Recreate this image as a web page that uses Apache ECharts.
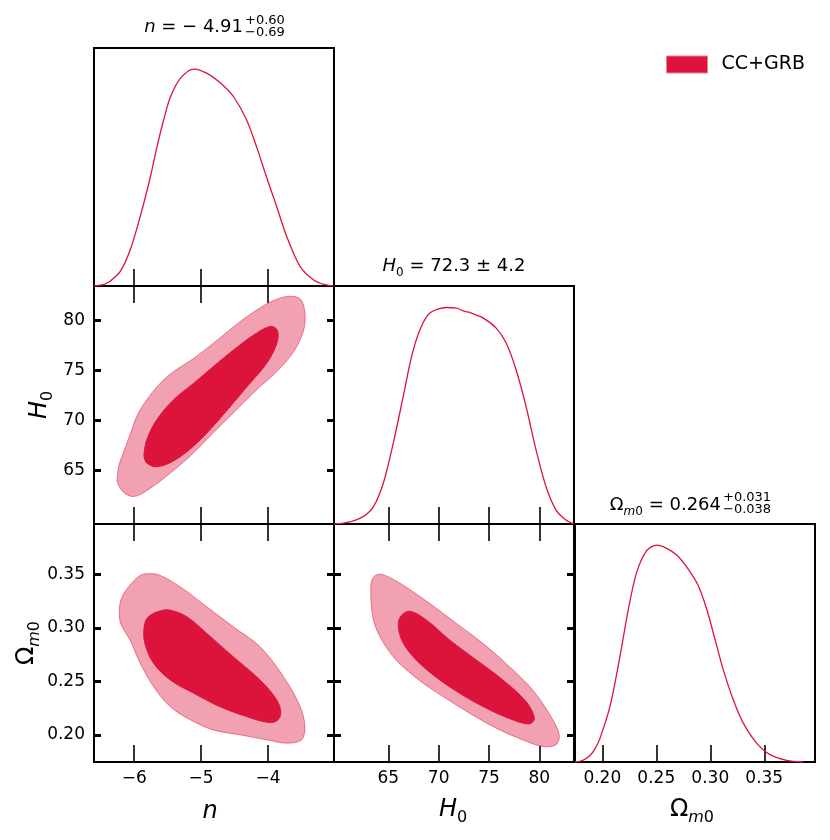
<!DOCTYPE html>
<html>
<head>
<meta charset="utf-8">
<script src="https://cdn.jsdelivr.net/npm/echarts@6/dist/echarts.min.js"></script>
<style>
html, body { margin: 0; padding: 0; background: #fff; }
#Root { width: 830px; height: 840px; }
</style>
</head>
<body>
<div id="Root"></div>
<script>
// tick values per parameter
const nTicks = [-6, -5, -4]
const h0Ticks = [65, 70, 75, 80]
const omTicks = [0.20, 0.25, 0.30, 0.35]

// 1D marginals: [value, density (peak = 1)]
const nMarg = [[-6.6, 0], [-6.45, 0.008], [-6.36, 0.022], [-6.21, 0.066], [-6.06, 0.166], [-5.91, 0.32], [-5.76, 0.5], [-5.66, 0.64],
    [-5.56, 0.765], [-5.46, 0.87], [-5.31, 0.957], [-5.11, 1.0], [-4.91, 0.98], [-4.69, 0.93], [-4.51, 0.87],
    [-4.32, 0.765], [-4.17, 0.64], [-4.02, 0.5], [-3.87, 0.365], [-3.72, 0.227], [-3.52, 0.089], [-3.32, 0.028],
    [-3.15, 0.006], [-3.02, 0]]
const h0Marg = [[59.6, 0], [61.2, 0.01], [62.53, 0.035], [63.52, 0.08], [64.5, 0.188], [65.49, 0.373], [66.48, 0.588],
    [67.31, 0.772], [68.14, 0.895], [69.12, 0.972], [70.78, 0.998], [71.77, 0.995], [72.59, 0.98], [73.08, 0.975],
    [74.4, 0.95], [75.72, 0.903], [76.71, 0.834], [77.7, 0.71], [78.69, 0.541], [79.68, 0.341], [80.67, 0.172],
    [81.66, 0.065], [82.65, 0.018], [83.45, 0]]
const omMarg = [[0.1747, 0], [0.182, 0.008], [0.1886, 0.03], [0.1935, 0.063], [0.1979, 0.11], [0.2071, 0.256],
    [0.2164, 0.488], [0.2241, 0.704], [0.2318, 0.874], [0.2411, 0.974], [0.2504, 1.0], [0.2596, 0.985], [0.2689, 0.954],
    [0.2796, 0.889], [0.2889, 0.812], [0.2967, 0.704], [0.3044, 0.565], [0.312, 0.426], [0.3213, 0.287], [0.3306, 0.179],
    [0.3429, 0.087], [0.3553, 0.034], [0.3707, 0.008], [0.3861, 0]]

// 2D contours (outer = 95%, inner = 68%)
const nH0Outer = [[-6.25, 64.44], [-6.23, 65.43], [-6.16, 66.76], [-6.06, 68.58], [-5.96, 70.4], [-5.81, 72.06],
    [-5.61, 73.71], [-5.41, 74.87], [-5.11, 76.2], [-4.82, 77.69], [-4.52, 79.34], [-4.22, 80.82], [-3.92, 81.99],
    [-3.70, 82.41], [-3.52, 82.15], [-3.45, 80.82], [-3.47, 79.0], [-3.62, 76.85], [-3.87, 74.87], [-4.17, 73.05],
    [-4.52, 70.73], [-4.82, 68.75], [-5.16, 66.43], [-5.51, 64.44], [-5.81, 62.95], [-6.01, 62.35], [-6.16, 62.79], [-6.25, 63.78]]
const nH0Inner = [[-5.85, 66.76], [-5.81, 68.08], [-5.66, 70.07], [-5.41, 72.06], [-5.11, 73.71], [-4.82, 75.36],
    [-4.52, 77.02], [-4.22, 78.51], [-3.97, 79.4], [-3.86, 79.0], [-3.87, 77.69], [-4.02, 75.7], [-4.27, 73.71],
    [-4.52, 71.73], [-4.82, 69.4], [-5.11, 67.42], [-5.41, 65.93], [-5.66, 65.33], [-5.81, 65.7], [-5.85, 66.27]]
const nOmOuter = [[-6.22, 0.3102], [-6.2, 0.3258], [-6.085, 0.3382], [-5.91, 0.349], [-5.76, 0.3506], [-5.61, 0.349],
    [-5.31, 0.3382], [-4.915, 0.3196], [-4.52, 0.301], [-4.12, 0.2823], [-3.77, 0.2544], [-3.52, 0.2264], [-3.45, 0.2078],
    [-3.5, 0.1954], [-3.72, 0.1923], [-4.02, 0.1954], [-4.42, 0.2001], [-4.82, 0.2047], [-5.16, 0.2141], [-5.46, 0.2264],
    [-5.71, 0.2451], [-5.91, 0.2669], [-6.06, 0.2885], [-6.18, 0.301]]
const nOmInner = [[-5.85, 0.301], [-5.79, 0.3102], [-5.61, 0.3158], [-5.46, 0.3165], [-5.21, 0.3102], [-4.915, 0.2948],
    [-4.52, 0.273], [-4.12, 0.2513], [-3.87, 0.2327], [-3.81, 0.2203], [-3.87, 0.2131], [-4.02, 0.2119], [-4.32, 0.2171],
    [-4.72, 0.2264], [-5.11, 0.2389], [-5.46, 0.2513], [-5.71, 0.2669], [-5.84, 0.2855]]
const h0OmOuter = [[63.26, 0.3351], [63.36, 0.3444], [63.85, 0.3497], [64.67, 0.349], [66.48, 0.3398], [69.12, 0.3227],
    [71.77, 0.3041], [74.4, 0.2855], [77.04, 0.2637], [79.34, 0.242], [81.16, 0.2171], [81.98, 0.2001], [81.66, 0.1908],
    [80.33, 0.1892], [78.35, 0.1954], [75.72, 0.2063], [73.08, 0.2203], [70.44, 0.2358], [67.81, 0.2529], [65.49, 0.273],
    [63.85, 0.2979], [63.36, 0.3165]]
const h0OmInner = [[65.99, 0.3041], [66.33, 0.3118], [67.15, 0.3155], [68.8, 0.3072], [71.1, 0.2886], [73.74, 0.27],
    [76.38, 0.2513], [78.69, 0.2311], [79.51, 0.2156], [79.02, 0.2103], [77.36, 0.2141], [74.73, 0.225], [72.09, 0.2389],
    [69.45, 0.256], [67.47, 0.273], [66.33, 0.2886]]

const RED = '#DC143C'
const PINK = '#F1A1B1'
const FONT = 'DejaVu Sans'
const cols = [94, 334, 575]
const rows = [48, 286, 524]
const W = 240, H = 238
const ranges = { n: [-6.6, -3.015], h0: [59.6, 83.45], om: [0.1747, 0.397] }
const ticks = { n: nTicks, h0: h0Ticks, om: omTicks }
const fmt = {
    n: v => (v < 0 ? '\u2212' : '') + Math.abs(v),
    h0: v => String(v),
    om: v => Number(v).toFixed(2)
}

let grid = [], xAxis = [], yAxis = [], series = []

function addGrid(r, c) {
    grid.push({
        left: cols[c], top: rows[r], width: W, height: H,
        show: true, borderWidth: 2, borderColor: '#000', backgroundColor: 'transparent',
        outerBoundsMode: 'none'
    })
    return grid.length - 1
}

function addX(gi, p, pos, labels) {
    xAxis.push({
        type: 'value', gridIndex: gi, position: pos, min: ranges[p][0], max: ranges[p][1],
        axisLine: { show: false }, splitLine: { show: false },
        axisTick: { show: true, inside: true, length: 17, lineStyle: { color: '#000', width: 1.6 }, customValues: ticks[p] },
        axisLabel: { show: labels, customValues: ticks[p], formatter: fmt[p], margin: 8, color: '#000', fontSize: 17, fontFamily: FONT }
    })
    return xAxis.length - 1
}

function addY(gi, p, pos, labels) {
    yAxis.push({
        type: 'value', gridIndex: gi, position: pos, min: ranges[p][0], max: ranges[p][1],
        axisLine: { show: false }, splitLine: { show: false },
        axisTick: { show: true, inside: true, length: 7, lineStyle: { color: '#000', width: 3 }, customValues: ticks[p] },
        axisLabel: { show: labels, customValues: ticks[p], formatter: fmt[p], margin: 9, color: '#000', fontSize: 17, fontFamily: FONT }
    })
    return yAxis.length - 1
}

function addHiddenY(gi) {
    yAxis.push({ type: 'value', gridIndex: gi, min: 0, max: 1.097, show: false })
    return yAxis.length - 1
}

function diagPanel(r, p, data, labels) {
    let gi = addGrid(r, r)
    let xi = addX(gi, p, 'bottom', labels)
    let yi = addHiddenY(gi)
    series.push({
        type: 'line', xAxisIndex: xi, yAxisIndex: yi, data: data, showSymbol: false, smooth: 0.3,
        lineStyle: { color: RED, width: 1.3 }, silent: true
    })
}

function contour(xi, yi, pts, fill, stroke, name) {
    return {
        type: 'custom', name: name, xAxisIndex: xi, yAxisIndex: yi, data: [[0, 0]], silent: true,
        itemStyle: { color: fill },
        renderItem: (params, api) => ({
            type: 'polygon',
            shape: { points: pts.map(pt => api.coord(pt)), smooth: 0.35 },
            style: { fill: fill, stroke: stroke, lineWidth: 1 }
        })
    }
}

function pairPanel(r, c, px, py, outer, inner, xLabels, yLabels) {
    let gi = addGrid(r, c)
    let xi = addX(gi, px, 'bottom', xLabels)
    addX(gi, px, 'top', false)
    let yi = addY(gi, py, 'left', yLabels)
    addY(gi, py, 'right', false)
    series.push(contour(xi, yi, outer, PINK, 'rgba(220,20,60,0.5)', 'outer'))
    series.push(contour(xi, yi, inner, RED, RED, 'CC+GRB'))
}

//#region panels
diagPanel(0, 'n', nMarg, false)
pairPanel(1, 0, 'n', 'h0', nH0Outer, nH0Inner, false, true)
diagPanel(1, 'h0', h0Marg, false)
pairPanel(2, 0, 'n', 'om', nOmOuter, nOmInner, true, true)
pairPanel(2, 1, 'h0', 'om', h0OmOuter, h0OmInner, true, false)
diagPanel(2, 'om', omMarg, true)
//#endregion

const sub = { fontSize: 12, fontFamily: FONT, verticalAlign: 'bottom', lineHeight: 14 }
const subI = Object.assign({}, sub, { fontStyle: 'italic' })
const subBig = { fontSize: 16, fontFamily: FONT, verticalAlign: 'bottom', lineHeight: 16 }
const subBigI = Object.assign({}, subBig, { fontStyle: 'italic' })

function text(x, y, str, size, opts) {
    return {
        type: 'text', x: x, y: y, silent: true,
        style: Object.assign({
            text: str, fontSize: size, fontFamily: FONT, fill: '#000',
            align: 'center', verticalAlign: 'middle', lineHeight: size + 8
        }, opts || {})
    }
}

let graphic = [
    // panel titles
    text(243, 27, '{i|n} = \u2212 4.91', 18, { align: 'right', rich: { i: { fontStyle: 'italic', fontSize: 18, fontFamily: FONT } } }),
    text(245, 21, '+0.60', 13, { align: 'left' }),
    text(245, 33, '\u22120.69', 13, { align: 'left' }),
    text(454, 266, '{i|H}{s|0} = 72.3 \u00b1 4.2', 18, { rich: { i: { fontStyle: 'italic', fontSize: 18, fontFamily: FONT }, s: sub } }),
    text(721, 505, '\u03a9{si|m}{s|0} = 0.264', 18, { align: 'right', rich: { si: subI, s: sub } }),
    text(723, 498, '+0.031', 13, { align: 'left' }),
    text(723, 510, '\u22120.038', 13, { align: 'left' }),
    // axis names
    text(210, 812, '{i|n}', 24, { rich: { i: { fontStyle: 'italic', fontSize: 24, fontFamily: FONT } } }),
    text(453, 810, '{i|H}{s|0}', 24, { lineHeight: 32, rich: { i: { fontStyle: 'italic', fontSize: 24, fontFamily: FONT }, s: subBig } }),
    text(692, 810, '\u03a9{si|m}{s|0}', 24, { lineHeight: 32, rich: { si: subBigI, s: subBig } })
]
let yName1 = text(40, 405, '{i|H}{s|0}', 24, { lineHeight: 32, rich: { i: { fontStyle: 'italic', fontSize: 24, fontFamily: FONT }, s: subBig } })
yName1.rotation = Math.PI / 2
let yName2 = text(27, 643, '\u03a9{si|m}{s|0}', 24, { lineHeight: 32, rich: { si: subBigI, s: subBig } })
yName2.rotation = Math.PI / 2
graphic.push(yName1, yName2)

let chart = echarts.init(document.getElementById('Root'))
chart.setOption({
    animation: false,
    backgroundColor: '#fff',
    textStyle: { fontFamily: FONT },
    legend: {
        left: 666, top: 55, padding: 0, itemWidth: 41, itemHeight: 17,
        data: [{ name: 'CC+GRB', icon: 'rect', itemStyle: { color: RED, borderColor: '#EE7F96', borderWidth: 1 } }],
        textStyle: { fontSize: 19, fontFamily: FONT, color: '#000', padding: [0, 0, 0, 9] },
        selectedMode: false
    },
    grid: grid,
    xAxis: xAxis,
    yAxis: yAxis,
    series: series,
    graphic: graphic
})
</script>
</body>
</html>
